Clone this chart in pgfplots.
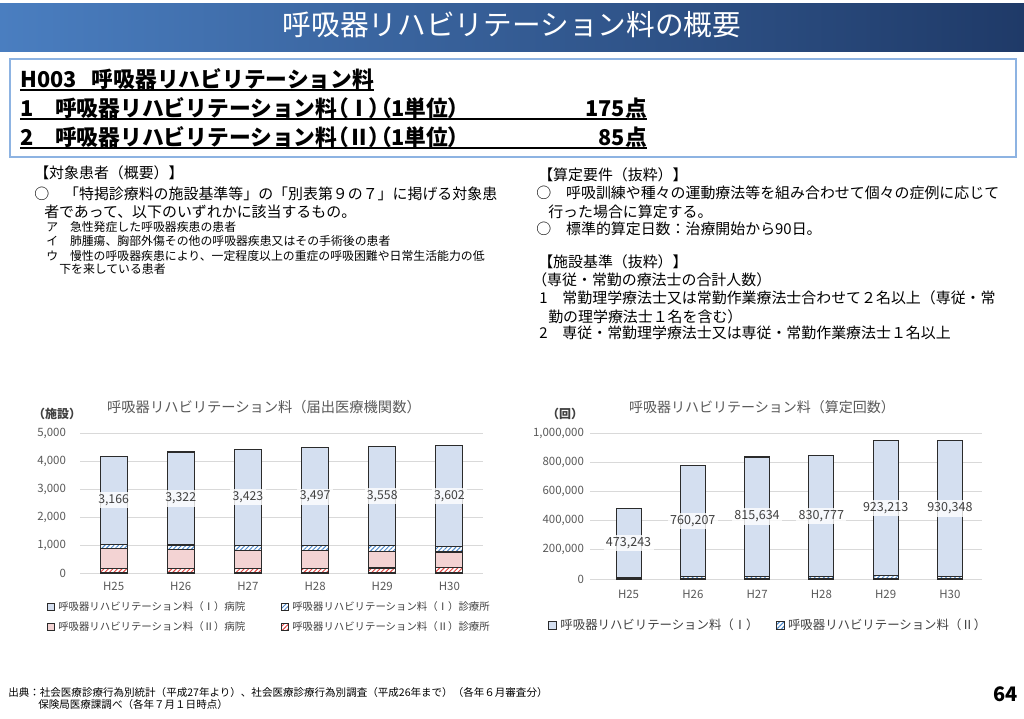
\documentclass[border=0pt]{standalone}
\usepackage{fontspec}
\setmainfont{Noto Sans CJK JP}
\newfontfamily\paltfont[RawFeature=+palt]{Noto Sans CJK JP}
\usepackage{pgfplots}
\usepackage{pgfplotstable}
\pgfplotsset{compat=1.18}
\usetikzlibrary{patterns.meta}

\definecolor{barI}{HTML}{D4DFF0}
\definecolor{barII}{HTML}{F3D3D3}
\definecolor{hatchB}{HTML}{4A86C8}
\definecolor{hatchR}{HTML}{E04440}
\definecolor{edge}{HTML}{2B2B2B}
\definecolor{gridc}{HTML}{D9D9D9}
\definecolor{ticktxt}{HTML}{595959}
\definecolor{lbl}{HTML}{404040}
\definecolor{headL}{HTML}{4A7EC0}
\definecolor{headR}{HTML}{1F3A68}
\definecolor{boxc}{HTML}{8DB3E2}

\newcommand\fs[1]{\fontsize{#1}{#1}\selectfont}

% facilities: a = (II) clinic, b = (II) hospital, c = (I) clinic, d = (I) hospital
\pgfplotstableread{
x a b c d
0 170 690 150 3166
1 170 670 160 3322
2 170 640 185 3423
3 175 620 183 3497
4 180 595 192 3558
5 185 565 208 3602
}\facilities

% counts: a = (II), b = (I)
\pgfplotstableread{
x a b
0 12000 473243
1 17500 760207
2 20000 815634
3 18000 830777
4 24000 923213
5 17000 930348
}\counts

\pgfplotsset{
  slidechart/.style={
    scale only axis,
    ymin=0,
    xtick={0,1,2,3,4,5},
    xticklabels={H25,H26,H27,H28,H29,H30},
    axis line style={draw=none},
    major tick length=0pt,
    ymajorgrids,
    grid style={draw=gridc, line width=0.7pt},
    tick label style={text=ticktxt, font=\fs{8.6}},
    scaled y ticks=false,
    yticklabel style={/pgf/number format/fixed, /pgf/number format/precision=0},
    /pgf/number format/assume math mode=true,
    /pgf/number format/1000 sep={,},
    clip=false,
  },
  barstyle/.style={draw=edge, line width=0.8pt},
  datalabel/.style={
    draw=none, mark=none, point meta=explicit,
    nodes near coords={\pgfmathprintnumber[fixed,precision=0,assume math mode=true,1000 sep={,}]{\pgfplotspointmeta}},
    every node near coord/.append style={anchor=center, fill=white, fill opacity=0.8,
      text opacity=1, text=lbl, font=\fs{#1}, inner sep=1.8pt},
  },
}

\begin{document}
\begin{tikzpicture}
\useasboundingbox (0,0) rectangle (768pt,-538.5pt);
\fill[white] (0,0) rectangle (768pt,-538.5pt);

\begin{scope}[x=0.75pt,y=-0.75pt]
  % header
  \shade[left color=headL, right color=headR] (0,3) rectangle (1024,51);
  \node[text=white, font=\fs{21.5}, anchor=base] at (512,35.5) {呼吸器リハビリテーション料の概要};

  % code box
  \draw[boxc, line width=2.2pt] (10,59) rectangle (1016,157);
  \node[anchor=base west, inner sep=0pt, font=\bfseries\fs{16.3}] (h1) at (20,87)
    {H003\hspace{0.7em}呼吸器リハビリテーション料};
  \draw[line width=1pt] (20,90) -- (h1.east |- 0,90);
  \node[anchor=base west, inner sep=0pt, font=\bfseries\fs{16.3}] at (20,116)
    {1\hspace{1em}呼吸器リハビリテーション料{\paltfont（Ⅰ）（1単位）}};
  \node[anchor=base east, inner sep=0pt, font=\bfseries\fs{16.3}] at (647,116) {175点};
  \draw[line width=1pt] (20,119) -- (647,119);
  \node[anchor=base west, inner sep=0pt, font=\bfseries\fs{16.3}] at (20,145)
    {2\hspace{1em}呼吸器リハビリテーション料{\paltfont（Ⅱ）（1単位）}};
  \node[anchor=base east, inner sep=0pt, font=\bfseries\fs{16.3}] at (647,145) {85点};
  \draw[line width=1pt] (20,148) -- (647,148);

  % left text block
  \begin{scope}[every node/.style={anchor=base west, inner sep=0pt, font=\fs{11.2}}]
    \node at (34,178.6) {【対象患者（概要）】};
    \node at (34,199.6) {○　「特掲診療料の施設基準等」の「別表第９の７」に掲げる対象患};
    \node at (44,217.6) {者であって、以下のいずれかに該当するもの。};
  \end{scope}
  \begin{scope}[every node/.style={anchor=base west, inner sep=0pt, font=\fs{8.9}}]
    \node at (46,231.5) {ア　急性発症した呼吸器疾患の患者};
    \node at (46,245.5) {イ　肺腫瘍、胸部外傷その他の呼吸器疾患又はその手術後の患者};
    \node at (46,260) {ウ　慢性の呼吸器疾患により、一定程度以上の重症の呼吸困難や日常生活能力の低};
    \node at (59,273.5) {下を来している患者};
  \end{scope}

  % right text block
  \begin{scope}[every node/.style={anchor=base west, inner sep=0pt, font=\fs{11.2}}]
    \node at (538,180.7) {【算定要件（抜粋）】};
    \node at (536,198.7) {○　呼吸訓練や種々の運動療法等を組み合わせて個々の症例に応じて};
    \node at (548,217.7) {行った場合に算定する。};
    \node at (536,234.7) {○　標準的算定日数：治療開始から90日。};
    \node at (538,267.7) {【施設基準（抜粋）】};
    \node at (532,285.7) {（専従・常勤の療法士の合計人数）};
    \node at (539,303.7) {1\hspace{1em}常勤理学療法士又は常勤作業療法士合わせて２名以上（専従・常};
    \node at (548,322.7) {勤の理学療法士１名を含む）};
    \node at (539,338.7) {2\hspace{1em}専従・常勤理学療法士又は専従・常勤作業療法士１名以上};
  \end{scope}

  % chart titles
  \node[anchor=base, text=ticktxt, font=\fs{10.7}] at (264,412.8) {呼吸器リハビリテーション料（届出医療機関数）};
  \node[anchor=base, text=lbl, font=\bfseries\fs{9}] at (57,418.6) {（施設）};
  \node[anchor=base, text=ticktxt, font=\fs{10.5}] at (762,412.5) {呼吸器リハビリテーション料（算定回数）};
  \node[anchor=base, text=lbl, font=\bfseries\fs{9}] at (565,418.6) {（回）};

  % footer
  \node[anchor=base west, inner sep=0pt, font=\fs{7.9}] at (8,696) {出典：社会医療診療行為別統計（平成27年より）、社会医療診療行為別調査（平成26年まで）（各年６月審査分）};
  \node[anchor=base west, inner sep=0pt, font=\fs{7.9}] at (38,708) {保険局医療課調べ（各年７月１日時点）};
  \node[anchor=east, inner sep=0pt, font=\bfseries\fs{15}] at (1018,694) {64};
\end{scope}

% ---------------- left chart: facilities ----------------
\begin{axis}[slidechart,
  at={(60pt,-429.75pt)}, anchor=south west,
  width=302.25pt, height=105pt,
  xmin=-0.5, xmax=5.5, ymax=5000, ytick={0,1000,...,5000},
  ybar stacked, bar width=20.25pt,
  yticklabel style={xshift=-7pt},
  xticklabel style={yshift=-3.5pt},
  reverse legend, legend columns=2, legend cell align=left,
  legend image code/.code={\draw[#1, line width=0.6pt] (0pt,-2.6pt) rectangle (5.2pt,2.6pt);},
  legend style={at={(-0.082,-0.193)}, anchor=north west, draw=none, fill=none,
    font=\fs{7.8}, text=lbl, inner sep=0pt, row sep=4.8pt, column sep=1.5pt,
    nodes={inner sep=1pt},
    /tikz/every even column/.append style={column sep=26pt}},
]
\addplot[barstyle, fill=white, postaction={pattern={Lines[angle=45,distance=2.4pt,line width=0.7pt]}, pattern color=hatchR}]
  table[x=x, y=a] {\facilities};
\addlegendentry{呼吸器リハビリテーション料（Ⅱ）診療所}
\addplot[barstyle, fill=barII] table[x=x, y=b] {\facilities};
\addlegendentry{呼吸器リハビリテーション料（Ⅱ）病院}
\addplot[barstyle, fill=white, postaction={pattern={Lines[angle=45,distance=2.4pt,line width=0.7pt]}, pattern color=hatchB}]
  table[x=x, y=c] {\facilities};
\addlegendentry{呼吸器リハビリテーション料（Ⅰ）診療所}
\addplot[barstyle, fill=barI] table[x=x, y=d] {\facilities};
\addlegendentry{呼吸器リハビリテーション料（Ⅰ）病院}
\end{axis}

\begin{axis}[slidechart, hide axis,
  at={(60pt,-429.75pt)}, anchor=south west,
  width=302.25pt, height=105pt,
  xmin=-0.5, xmax=5.5, ymax=5000]
\addplot[datalabel=9.2] table[x=x, y expr=\thisrow{a}+\thisrow{b}+\thisrow{c}+0.5*\thisrow{d}, meta=d] {\facilities};
\end{axis}

% ---------------- right chart: counts ----------------
\begin{axis}[slidechart,
  at={(442.5pt,-434.25pt)}, anchor=south west,
  width=294pt, height=109.5pt,
  xmin=-0.6, xmax=5.5, ymax=1000000, ytick={0,200000,...,1000000},
  ybar stacked, bar width=18.75pt,
  yticklabel style={xshift=-1pt},
  xticklabel style={yshift=-4.5pt},
  reverse legend, legend columns=2, legend cell align=left,
  legend image code/.code={\draw[#1, line width=0.6pt] (0pt,-3pt) rectangle (6pt,3pt);},
  legend style={at={(-0.107,-0.262)}, anchor=north west, draw=none, fill=none,
    font=\fs{9.3}, text=lbl, inner sep=0pt, column sep=1.5pt,
    nodes={inner sep=1pt},
    /tikz/every even column/.append style={column sep=12pt}},
]
\addplot[barstyle, fill=white, postaction={pattern={Lines[angle=45,distance=2.4pt,line width=0.7pt]}, pattern color=hatchB}]
  table[x=x, y=a] {\counts};
\addlegendentry{呼吸器リハビリテーション料（Ⅱ）}
\addplot[barstyle, fill=barI] table[x=x, y=b] {\counts};
\addlegendentry{呼吸器リハビリテーション料（Ⅰ）}
\end{axis}

\begin{axis}[slidechart, hide axis,
  at={(442.5pt,-434.25pt)}, anchor=south west,
  width=294pt, height=109.5pt,
  xmin=-0.6, xmax=5.5, ymax=1000000]
\addplot[datalabel=9.4] table[x=x, y expr=\thisrow{a}+0.5*\thisrow{b}, meta=b] {\counts};
\end{axis}
\end{tikzpicture}
\end{document}
